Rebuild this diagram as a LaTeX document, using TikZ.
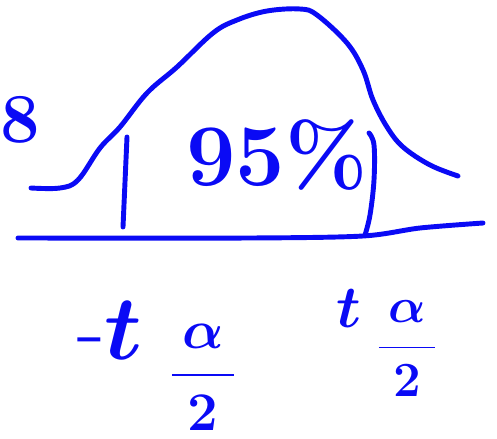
\RequirePackage{fix-cm}
\documentclass[tikz,border=0pt]{standalone}
\usepackage{amsmath}
\begin{document}
\begin{tikzpicture}[x=0.02cm,y=-0.02cm,
  pen/.style={draw=penblue,line width=2.8pt,line cap=round,line join=round},
  ink/.style={text=penblue,inner sep=0pt}]
\definecolor{penblue}{RGB}{10,10,245}
\useasboundingbox (0,0) rectangle (497,439);
% bell curve
\draw[pen] plot[smooth,tension=0.6] coordinates {(31,188) (60,188) (78,180) (100,148) (120,127) (147,93) (177,67) (213,33) (237,20) (267,11) (300,9) (317,15) (347,43) (363,70) (373,100) (387,127) (403,147) (430,165) (458,176)};
% baseline
\coordinate (b0) at (18,238);
\coordinate (b1) at (363,236);
\coordinate (b2) at (483,223);
\draw[pen] plot[smooth,tension=0.5] coordinates {(b0) (250,238) (b1) (420,228) (b2)};
% left tick
\coordinate (l0) at (127,137);
\coordinate (l1) at (123,227);
\draw[pen] (l0) -- (l1);
% right tick
\coordinate (r0) at (369,133);
\coordinate (r1) at (365,235);
\draw[pen] plot[smooth,tension=0.6] coordinates {(r0) (374,145) (374,180) (370,215) (r1)};
% texts
\node[ink,font=\bfseries\fontsize{50}{54}\selectfont] (pct) at (277,155) {95\%};
\node[ink,anchor=west,font=\bfseries\fontsize{40}{44}\selectfont] (eight) at (0,120) {8};
\node[ink,font=\boldmath\fontsize{52}{56}\selectfont] (mt) at (110,330) {-$t$};
\node[ink,font=\boldmath\fontsize{31}{35}\selectfont] (fl) at (203,377) {$\dfrac{\,\alpha\,}{2}$};
\node[ink,font=\boldmath\fontsize{34}{38}\selectfont] (pt) at (349,309) {$t$};
\node[ink,font=\boldmath\fontsize{28}{32}\selectfont] (fr) at (407,349) {$\dfrac{\,\alpha\,}{2}$};
\end{tikzpicture}
\end{document}
